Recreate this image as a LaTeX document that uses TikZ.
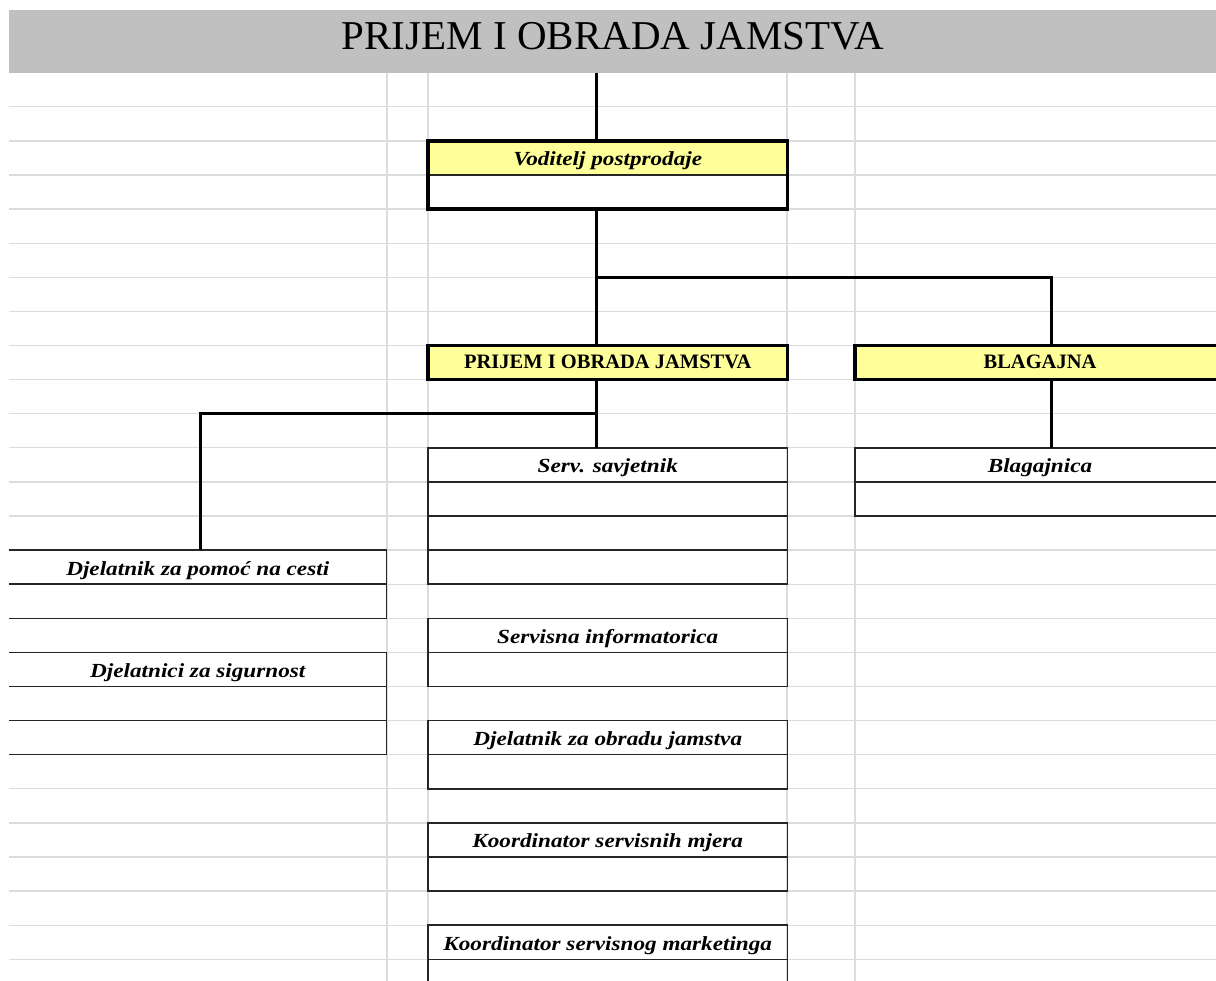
\documentclass[tikz,border=0pt]{standalone}
\usepackage{fontspec}
\setmainfont{Liberation Serif}
\newfontfamily\labfont[FakeStretch=1.16]{Liberation Serif}
\usetikzlibrary{positioning}
\definecolor{hdrgray}{HTML}{C0C0C0}
\definecolor{gridgray}{HTML}{DCDCDC}
\definecolor{boxyellow}{HTML}{FFFF99}
\begin{document}
\begin{tikzpicture}[x=1pt,y=-1pt,
  gridline/.style={draw=gridgray, line width=1.3pt},
  cellbase/.style={rectangle, inner sep=0pt, outer sep=0pt, anchor=north west, minimum height=34.1pt},
  midcell/.style={cellbase, minimum width=359.5pt},
  leftcell/.style={cellbase, minimum width=377.5pt},
  rightcell/.style={cellbase, minimum width=361pt},
  thinline/.style={draw=black!85, line width=1.5pt},
  thickline/.style={draw=black, line width=3.6pt},
  headfont/.style={font=\fontsize{20.5}{24}\selectfont\bfseries, text height=11.6pt, text depth=0pt},
  itallabel/.style={font=\labfont\fontsize{20}{24}\selectfont\bfseries\itshape, text height=16pt, text depth=0pt},
  connector/.style={draw=black, line width=3pt},
]
\useasboundingbox (0,0) rectangle (1216,981);
\fill[white] (0,0) rectangle (1216,981);

% spreadsheet grid
\foreach \k in {1,...,26} \draw[gridline] (9,{72.7+34.1*\k}) -- (1216,{72.7+34.1*\k});
\foreach \gx in {387,428,787,855} \draw[gridline] (\gx,72.7) -- (\gx,981);

% header
\node[cellbase, fill=hdrgray, minimum width=1207pt, minimum height=62.7pt] (hdr) at (9,10) {};
\node[font=\fontsize{41}{48}\selectfont, inner sep=0pt] (title) at (613,36) {PRIJEM I OBRADA JAMSTVA};

% Voditelj postprodaje
\node[midcell, fill=boxyellow, itallabel] (vod1) at (428,140.9) {Voditelj postprodaje};
\node[midcell, below=0pt of vod1] (vod2) {};
\draw[thinline] (vod1.south west) -- (vod1.south east);
\draw[thickline] (vod1.north west) rectangle (vod2.south east);

% PRIJEM I OBRADA JAMSTVA
\node[midcell, fill=boxyellow, headfont, thickline] (pri) at (428,345.5) {PRIJEM I OBRADA JAMSTVA};

% BLAGAJNA
\node[rightcell, fill=boxyellow, headfont] (bla) at (855,345.5) {\hspace*{9pt}BLAGAJNA};
\draw[thickline] (bla.north east) -- (bla.north west) -- (bla.south west) -- (bla.south east);

% Serv. savjetnik
\node[midcell, thinline, itallabel] (sav1) at (428,447.8) {Serv. savjetnik};
\node[midcell, thinline, below=0pt of sav1] (sav2) {};
\node[midcell, thinline, below=0pt of sav2] (sav3) {};
\node[midcell, thinline, below=0pt of sav3] (sav4) {};

% Blagajnica
\node[rightcell, itallabel] (blg1) at (855,447.8) {\hspace*{9pt}Blagajnica};
\node[rightcell, below=0pt of blg1] (blg2) {};
\foreach \n in {blg1,blg2}
  \draw[thinline] (\n.north east) -- (\n.north west) -- (\n.south west) -- (\n.south east);

% left column
\node[leftcell, itallabel] (pom1) at (9,550.1) {Djelatnik za pomoć na cesti};
\node[leftcell, below=0pt of pom1] (pom2) {};
\node[leftcell, itallabel] (sig1) at (9,652.4) {Djelatnici za sigurnost};
\node[leftcell, below=0pt of sig1] (sig2) {};
\node[leftcell, below=0pt of sig2] (sig3) {};
\foreach \n in {pom1,pom2,sig1,sig2,sig3}
  \draw[thinline] (\n.north west) -- (\n.north east) -- (\n.south east) -- (\n.south west);

% middle column lower boxes
\node[midcell, thinline, itallabel] (inf1) at (428,618.3) {Servisna informatorica};
\node[midcell, thinline, below=0pt of inf1] (inf2) {};
\node[midcell, thinline, itallabel] (obr1) at (428,720.6) {Djelatnik za obradu jamstva};
\node[midcell, thinline, below=0pt of obr1] (obr2) {};
\node[midcell, thinline, itallabel] (mje1) at (428,822.9) {Koordinator servisnih mjera};
\node[midcell, thinline, below=0pt of mje1] (mje2) {};
\node[midcell, thinline, itallabel] (mkt1) at (428,925.2) {Koordinator servisnog marketinga};
\node[midcell, minimum height=21.7pt, below=0pt of mkt1] (mkt2) {};
\draw[thinline] (mkt2.south west) -- (mkt2.north west) -- (mkt2.north east) -- (mkt2.south east);

% connectors
\coordinate (cx) at (596,0);
\coordinate (bx) at (1051,0);
\coordinate (lx) at (200,0);
\coordinate (j1) at (596,277.3);
\coordinate (j2) at (596,413.7);
\draw[connector] (hdr.south -| cx) -- (vod1.north -| cx);
\draw[connector] (vod2.south -| cx) -- (pri.north -| cx);
\draw[connector] (j1) -| (bla.north -| bx);
\draw[connector] (pri.south -| cx) -- (sav1.north -| cx);
\draw[connector] (j2) -| (pom1.north -| lx);
\draw[connector] (bla.south -| bx) -- (blg1.north -| bx);
\end{tikzpicture}
\end{document}
